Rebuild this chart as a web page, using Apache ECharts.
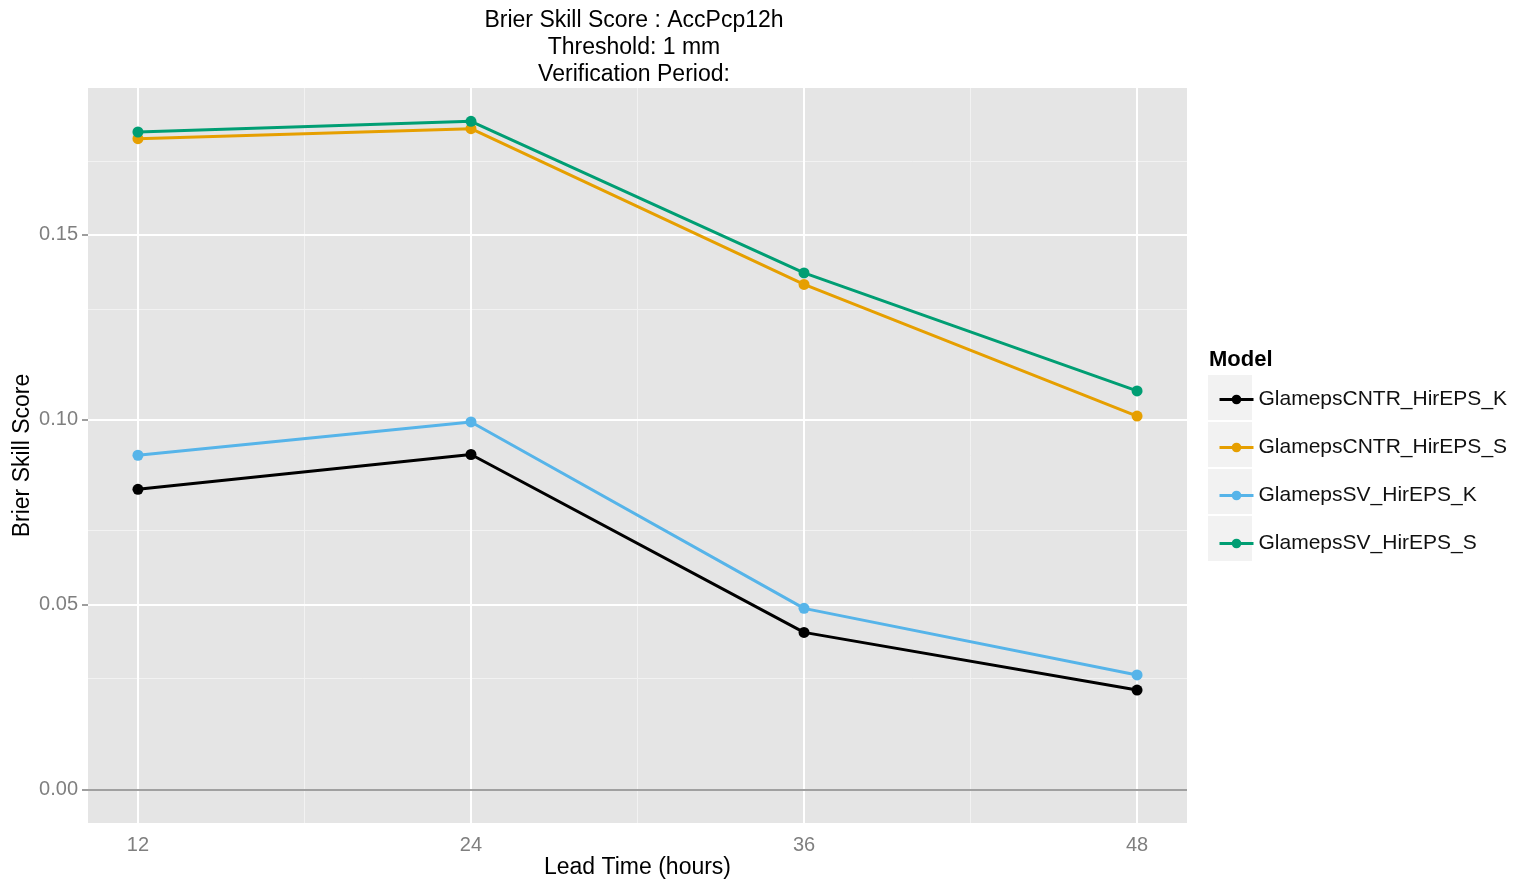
<!DOCTYPE html>
<html>
<head>
<meta charset="utf-8">
<title>Brier Skill Score : AccPcp12h</title>
<script src="https://cdn.jsdelivr.net/npm/echarts@6/dist/echarts.min.js"></script>
<style>
  html, body { margin: 0; padding: 0; background: #ffffff; overflow: hidden; }
  #chart { width: 1518px; height: 879px; }
</style>
</head>
<body>
<div id="chart"></div>
<script>
// Lead times (hours) and Brier skill scores per model
const leadTimes = [12, 24, 36, 48];
const modelNames = ['GlamepsCNTR_HirEPS_K', 'GlamepsCNTR_HirEPS_S', 'GlamepsSV_HirEPS_K', 'GlamepsSV_HirEPS_S'];
const cntrK = [0.0812, 0.0906, 0.0425, 0.0269];
const cntrS = [0.1760, 0.1787, 0.1366, 0.1010];
const svK = [0.0904, 0.0994, 0.0490, 0.0310];
const svS = [0.1778, 0.1807, 0.1397, 0.1078];
const modelColors = ['#000000', '#E69F00', '#56B4E9', '#009E73'];

const xTicks = [12, 24, 36, 48];
const xMinor = [18, 30, 42];
const yTicks = [0, 0.05, 0.10, 0.15];
const yMinor = [0.025, 0.075, 0.125, 0.175];

const titleLines = ['Brier Skill Score : AccPcp12h', 'Threshold: 1 mm', 'Verification Period:'];

const FONT = '"Liberation Sans", Arial, Helvetica, sans-serif';
const seriesValues = [cntrK, cntrS, svK, svS];

const chart = echarts.init(document.getElementById('chart'), null, { renderer: 'canvas' });

function vLines(vals) { return vals.map(v => ({ xAxis: v })); }
function hLines(vals) { return vals.map(v => ({ yAxis: v })); }

function ruleSeries(name, z, color, width, data) {
  return {
    name: name, type: 'line', data: [], z: z, silent: true, animation: false,
    markLine: {
      silent: true, animation: false, symbol: ['none', 'none'], label: { show: false },
      lineStyle: { color: color, width: width, type: 'solid' },
      emphasis: { disabled: true },
      data: data
    }
  };
}

// panel grid: minor lines, major lines, and the zero reference line
const gridSeries = [
  ruleSeries('__minor', 1, '#F2F2F2', 1, vLines(xMinor).concat(hLines(yMinor))),
  ruleSeries('__major', 1, '#FFFFFF', 2, vLines(xTicks).concat(hLines(yTicks))),
  ruleSeries('__zero', 2, '#A0A0A0', 2.2, [{ yAxis: 0 }])
];

const dataSeries = modelNames.map((name, i) => ({
  name: name,
  type: 'line',
  z: 5,
  data: leadTimes.map((t, j) => [t, seriesValues[i][j]]),
  symbol: 'circle',
  symbolSize: 11,
  showSymbol: true,
  color: modelColors[i],
  lineStyle: { width: 3, color: modelColors[i] },
  itemStyle: { color: modelColors[i] },
  animation: false
}));

const option = {
  backgroundColor: '#ffffff',
  animation: false,
  grid: {
    left: 88, right: 331, top: 88, bottom: 56,
    outerBoundsMode: 'none',
    containLabel: false,
    show: true, backgroundColor: '#E5E5E5', borderWidth: 0
  },
  xAxis: {
    type: 'value',
    min: 10.2, max: 49.8,
    name: 'Lead Time (hours)',
    nameLocation: 'middle',
    nameGap: 33,
    nameMoveOverlap: false,
    nameTextStyle: { fontFamily: FONT, fontSize: 23, color: '#000000' },
    axisLine: { show: false },
    splitLine: { show: false },
    axisTick: { show: true, customValues: xTicks, length: 6, lineStyle: { color: '#7F7F7F', width: 1.5 } },
    axisLabel: { customValues: xTicks, fontFamily: FONT, fontSize: 20, color: '#7F7F7F', margin: 12 }
  },
  yAxis: {
    type: 'value',
    min: -0.00904, max: 0.1897,
    name: 'Brier Skill Score',
    nameLocation: 'middle',
    nameGap: 54,
    nameMoveOverlap: false,
    nameTextStyle: { fontFamily: FONT, fontSize: 23, color: '#000000' },
    axisLine: { show: false },
    splitLine: { show: false },
    axisTick: { show: true, customValues: yTicks, length: 6, lineStyle: { color: '#7F7F7F', width: 1.5 } },
    axisLabel: {
      customValues: yTicks, fontFamily: FONT, fontSize: 20, color: '#7F7F7F', margin: 10,
      formatter: v => Number(v).toFixed(2)
    }
  },
  legend: {
    orient: 'vertical',
    left: 1213, top: 384,
    data: modelNames,
    itemWidth: 34, itemHeight: 12, itemGap: 27,
    lineStyle: { width: 3 },
    textStyle: { fontFamily: FONT, fontSize: 21, color: '#111111', lineHeight: 20 },
    selectedMode: false
  },
  graphic: [
    {
      type: 'text', left: 1209, top: 349, z: 10,
      style: { text: 'Model', font: 'bold 22px ' + FONT, fill: '#000000' }
    },
    {
      type: 'group', left: 1208, top: 375, z: -1,
      children: [0, 1, 2, 3].map(k => ({
        type: 'rect', shape: { x: 0, y: k * 47, width: 44, height: 45 },
        style: { fill: '#F2F2F2' }
      }))
    },
    {
      type: 'text', x: 634, y: 7, z: 10,
      style: {
        text: titleLines.join('\n'), font: '23px ' + FONT, fill: '#000000',
        textAlign: 'center', lineHeight: 27
      }
    }
  ],
  series: gridSeries.concat(dataSeries)
};

chart.setOption(option);
</script>
</body>
</html>
